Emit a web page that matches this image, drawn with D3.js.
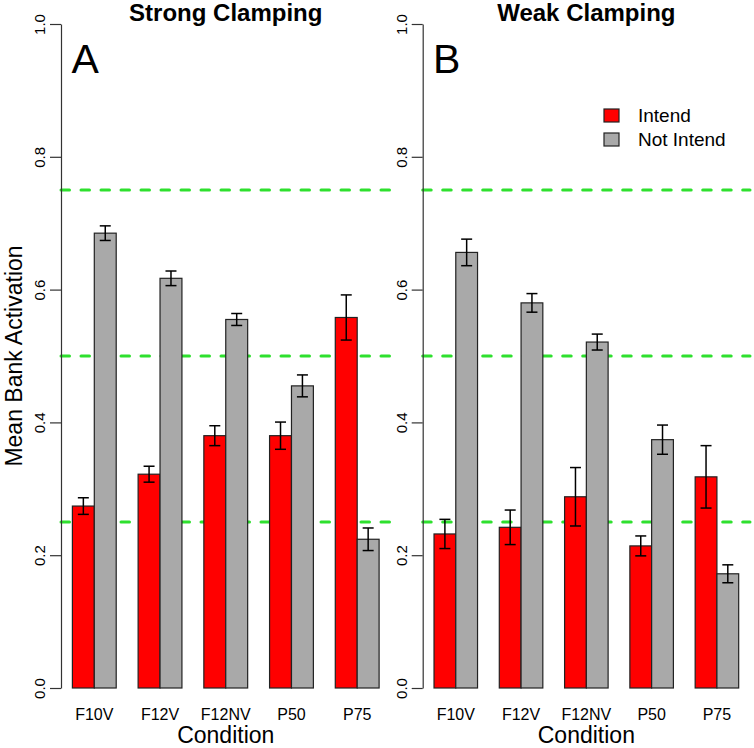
<!DOCTYPE html>
<html>
<head>
<meta charset="utf-8">
<script src="https://cdn.jsdelivr.net/npm/d3@7"></script>
<style>
  html, body { margin: 0; padding: 0; background: #fff; }
  svg { display: block; font-family: "Liberation Sans", Arial, Helvetica, sans-serif; }
</style>
</head>
<body>
<svg id="chart" width="754" height="748"></svg>
<script>
const conditions = ["F10V", "F12V", "F12NV", "P50", "P75"];
const seriesNames = ["Intend", "Not Intend"];
const seriesColors = ["#ff0000", "#a9a9a9"];

const strongIntend = [0.274, 0.322, 0.380, 0.380, 0.558];
const strongIntendErr = [0.0125, 0.012, 0.015, 0.0205, 0.034];
const strongNotIntend = [0.685, 0.617, 0.555, 0.455, 0.224];
const strongNotIntendErr = [0.011, 0.011, 0.009, 0.0165, 0.017];

const weakIntend = [0.232, 0.242, 0.288, 0.214, 0.318];
const weakIntendErr = [0.022, 0.026, 0.044, 0.015, 0.047];
const weakNotIntend = [0.656, 0.580, 0.521, 0.374, 0.172];
const weakNotIntendErr = [0.020, 0.014, 0.012, 0.022, 0.0135];

const yTicks = [0.0, 0.2, 0.4, 0.6, 0.8, 1.0];
const refLines = [0.25, 0.5, 0.75];

const panels = [
  { title: "Strong Clamping", letter: "A", left: 61, right: 390.5,
    values: [strongIntend, strongNotIntend], errs: [strongIntendErr, strongNotIntendErr], legend: false },
  { title: "Weak Clamping", letter: "B", left: 422.7, right: 750,
    values: [weakIntend, weakNotIntend], errs: [weakIntendErr, weakNotIntendErr], legend: true }
];

const svg = d3.select("#chart");
const y = d3.scaleLinear().domain([0, 1]).range([688, 24]);

// y-axis title
svg.append("text")
  .attr("transform", `translate(22,${(y(0) + y(1)) / 2}) rotate(-90)`)
  .attr("text-anchor", "middle")
  .attr("font-size", 23)
  .attr("fill", "#000")
  .text("Mean Bank Activation");

panels.forEach(p => {
  // bar-unit scale like R's barplot (groups of 2 bars with 1 unit spacing)
  const nBars = conditions.length * 3 - 1; // 1..15
  const pad = 0.04 * (nBars - 1);
  const x = d3.scaleLinear().domain([1 - pad, 15 + pad]).range([p.left, p.right]);
  const g = svg.append("g");

  // reference dashed lines
  g.selectAll("line.ref").data(refLines).enter().append("line")
    .attr("class", "ref")
    .attr("x1", x.range()[0]).attr("x2", x.range()[1])
    .attr("y1", d => y(d)).attr("y2", d => y(d))
    .attr("stroke", "#2ee02e").attr("stroke-width", 3)
    .attr("stroke-dasharray", "8.5,11.5").attr("stroke-linecap", "round");

  // bars
  const barData = [];
  conditions.forEach((c, i) => {
    [0, 1].forEach(s => {
      const u = 1 + 3 * i + s;
      barData.push({ u, v: p.values[s][i], e: p.errs[s][i], s });
    });
  });

  g.selectAll("rect.bar").data(barData).enter().append("rect")
    .attr("class", "bar")
    .attr("x", d => x(d.u)).attr("width", d => x(d.u + 1) - x(d.u))
    .attr("y", d => y(d.v)).attr("height", d => y(0) - y(d.v))
    .attr("fill", d => seriesColors[d.s])
    .attr("stroke", "#222").attr("stroke-width", 1.2);

  // error bars
  const eb = g.selectAll("g.err").data(barData).enter().append("g").attr("class", "err")
    .attr("stroke", "#000").attr("stroke-width", 1.5);
  eb.append("line")
    .attr("x1", d => x(d.u + 0.5)).attr("x2", d => x(d.u + 0.5))
    .attr("y1", d => y(d.v + d.e)).attr("y2", d => y(d.v - d.e));
  eb.append("line")
    .attr("x1", d => x(d.u + 0.5) - 5.5).attr("x2", d => x(d.u + 0.5) + 5.5)
    .attr("y1", d => y(d.v + d.e)).attr("y2", d => y(d.v + d.e));
  eb.append("line")
    .attr("x1", d => x(d.u + 0.5) - 5.5).attr("x2", d => x(d.u + 0.5) + 5.5)
    .attr("y1", d => y(d.v - d.e)).attr("y2", d => y(d.v - d.e));

  // y axis
  const ax = svg.append("g")
    .attr("transform", `translate(${p.left},0)`)
    .call(d3.axisLeft(y).tickValues(yTicks).tickFormat(d3.format(".1f")).tickSize(11).tickSizeOuter(0));
  ax.select(".domain").attr("stroke", "#333").attr("stroke-width", 1.2);
  ax.selectAll(".tick line").attr("stroke", "#333").attr("stroke-width", 1.2);
  ax.selectAll(".tick text")
    .attr("x", null).attr("dy", null)
    .attr("transform", "translate(-16,0) rotate(-90)")
    .attr("text-anchor", "middle")
    .attr("font-size", 15)
    .attr("font-family", "Liberation Sans, Arial, sans-serif")
    .attr("fill", "#000");

  // x category labels
  g.selectAll("text.cat").data(conditions).enter().append("text")
    .attr("class", "cat")
    .attr("x", (d, i) => x(2 + 3 * i))
    .attr("y", 720)
    .attr("text-anchor", "middle")
    .attr("font-size", 16)
    .text(d => d);

  const cx = (p.left + p.right) / 2;
  svg.append("text")
    .attr("x", cx).attr("y", 743)
    .attr("text-anchor", "middle")
    .attr("font-size", 23)
    .text("Condition");

  svg.append("text")
    .attr("x", cx).attr("y", 21)
    .attr("text-anchor", "middle")
    .attr("font-size", 24).attr("font-weight", "bold")
    .text(p.title);

  svg.append("text")
    .attr("x", x(1) - 1).attr("y", 73)
    .attr("font-size", 41)
    .text(p.letter);

  if (p.legend) {
    const lg = svg.append("g");
    seriesNames.forEach((n, i) => {
      lg.append("rect")
        .attr("x", 604).attr("y", 109 + 24 * i)
        .attr("width", 15).attr("height", 13)
        .attr("fill", seriesColors[i]).attr("stroke", "#222").attr("stroke-width", 1.2);
      lg.append("text")
        .attr("x", 638).attr("y", 122 + 24 * i)
        .attr("font-size", 19)
        .text(n);
    });
  }
});
</script>
</body>
</html>
